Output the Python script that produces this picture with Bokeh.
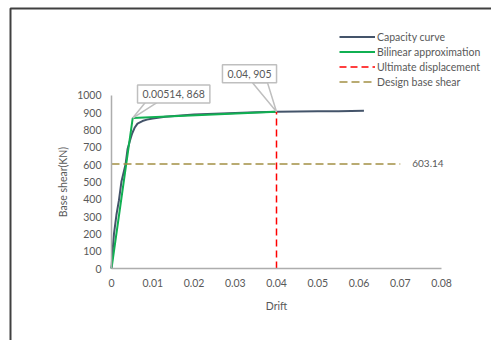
from bokeh.plotting import figure
from bokeh.models import (Range1d, FixedTicker, Legend, LegendItem, Label,
                          BoxAnnotation)
from bokeh.core.properties import value
from bokeh.embed import file_html
from bokeh.resources import INLINE

# Pushover capacity curve (drift vs base shear, kN)
capacity_drift = [0, 0.0003, 0.0006, 0.0012, 0.0018, 0.0024, 0.0034, 0.0039,
                  0.0045, 0.005, 0.0056, 0.0063, 0.0075, 0.0086, 0.01, 0.013,
                  0.016, 0.02, 0.025, 0.03, 0.035, 0.04, 0.045, 0.05, 0.055,
                  0.0612]
capacity_shear = [0, 110, 200, 310, 393, 500, 600, 690, 740, 779, 812, 836,
                  851, 859, 866, 875, 882, 888, 893, 897, 901, 905, 906, 907,
                  908, 910]

# Idealised bilinear curve: origin, yield point, ultimate point
bilinear_drift = [0, 0.00514, 0.04]
bilinear_shear = [0, 868, 905]

design_shear = 603.14
design_drift_span = [0, 0.07]

x_ticks = [0, 0.01, 0.02, 0.03, 0.04, 0.05, 0.06, 0.07, 0.08]
x_tick_labels = ["0", "0.01", "0.02", "0.03", "0.04", "0.05", "0.06", "0.07", "0.08"]
y_ticks = [0, 100, 200, 300, 400, 500, 600, 700, 800, 900, 1000]

FONT = "Lato"
TEXT = "#595959"

W, H = 491, 340
ORIGIN_X = 111           # pixel column of zero drift
ORIGIN_Y = 72            # pixels from the bottom edge to zero shear
x_px = 4125.0            # pixels per unit drift
y_px = 0.1733            # pixels per kN

# The frame fills the whole canvas; both axes sit at the data origin.
p = figure(width=W, height=H, output_backend="svg", toolbar_location=None,
           x_range=Range1d(-ORIGIN_X / x_px, (W - ORIGIN_X) / x_px),
           y_range=Range1d(-ORIGIN_Y / y_px, (H - ORIGIN_Y) / y_px),
           min_border=0)
p.outline_line_color = None
p.xgrid.visible = False
p.ygrid.visible = False
p.background_fill_color = "white"
p.border_fill_color = "white"

for ax in (p.xaxis[0], p.yaxis[0]):
    ax.fixed_location = 0
    ax.axis_line_color = "#ADADAD"
    ax.axis_line_width = 1.5
    ax.major_tick_line_color = None
    ax.minor_tick_line_color = None
    ax.major_tick_in = 0
    ax.major_tick_out = 0
    ax.major_label_text_font = FONT
    ax.major_label_text_font_size = "10.5px"
    ax.major_label_text_color = TEXT
    ax.axis_label_text_font = FONT
    ax.axis_label_text_font_size = "10.5px"
    ax.axis_label_text_font_style = "normal"
    ax.axis_label_text_color = TEXT

p.xaxis.bounds = (0, 0.08)
p.yaxis.bounds = (0, 1000)
p.xaxis.ticker = FixedTicker(ticks=x_ticks)
p.xaxis.major_label_overrides = {t: l for t, l in zip(x_ticks, x_tick_labels)}
p.yaxis.ticker = FixedTicker(ticks=y_ticks)
p.xaxis.major_label_standoff = 10
p.yaxis.major_label_standoff = 10
p.xaxis.axis_label = "Drift"
p.yaxis.axis_label = "Base shear(KN)"
p.xaxis.axis_label_standoff = 10
p.yaxis.axis_label_standoff = 5

# Outer frame of the figure panel (top and left edges)
p.add_layout(BoxAnnotation(left=10, right=600, top=H - 8, bottom=-20,
                           left_units="screen", right_units="screen",
                           top_units="screen", bottom_units="screen",
                           fill_alpha=0, line_color="#404040", line_alpha=1,
                           line_width=2))

r_cap = p.line(capacity_drift, capacity_shear, line_color="#44546A", line_width=2)
r_bil = p.line(bilinear_drift, bilinear_shear, line_color="#10B052", line_width=2)
ult_x = bilinear_drift[-1]
ult_y = bilinear_shear[-1]
r_ult = p.line([ult_x, ult_x], [0, ult_y], line_color="#FF0000",
               line_width=1.5, line_dash="7 4")
r_des = p.line(design_drift_span, [design_shear, design_shear],
               line_color="#A39044", line_width=1.5, line_dash="8 4")

p.text(x=[design_drift_span[1]], y=[design_shear], text=[f"{design_shear:.2f}"],
       x_offset=12, text_align="left", text_baseline="middle",
       text_font=value(FONT), text_font_size="10px", text_color=TEXT)

# Data callouts with pointer wedges
def callout(px, py, dx, dy, base, txt):
    bx0 = px + base[0] / x_px
    bx1 = px + base[1] / x_px
    by = py + base[2] / y_px
    p.patch([px, bx0, bx1], [py, by, by], fill_color="white",
            line_color="#BFBFBF", line_width=1.5)
    p.add_layout(Label(x=px, y=py, x_offset=dx, y_offset=dy, text=txt,
                       text_align="center", text_baseline="middle",
                       text_font=FONT, text_font_size="10.5px", text_color=TEXT,
                       background_fill_color="white",
                       border_line_color="#BFBFBF", border_line_width=1.5,
                       padding=dict(left=5, right=5, top=3, bottom=3)))

callout(bilinear_drift[1], bilinear_shear[1], 41, 24, (13, 25, 16),
        f"{bilinear_drift[1]}, {bilinear_shear[1]}")
callout(bilinear_drift[2], bilinear_shear[2], -27, 38, (-24, -9, 29),
        f"{bilinear_drift[2]}, {bilinear_shear[2]}")

legend = Legend(items=[
    LegendItem(label="Capacity curve", renderers=[r_cap]),
    LegendItem(label="Bilinear approximation", renderers=[r_bil]),
    LegendItem(label="Ultimate displacement", renderers=[r_ult]),
    LegendItem(label="Design base shear", renderers=[r_des]),
], location=(339, 251))
legend.padding = 0
legend.margin = 0
legend.spacing = 0
legend.glyph_width = 36
legend.glyph_height = 15
legend.label_height = 15
legend.label_standoff = 2
legend.label_text_font = FONT
legend.label_text_font_size = "10.5px"
legend.label_text_color = TEXT
legend.background_fill_alpha = 0
legend.border_line_color = None
p.add_layout(legend)

open("out.html", "w").write(file_html(p, INLINE))
